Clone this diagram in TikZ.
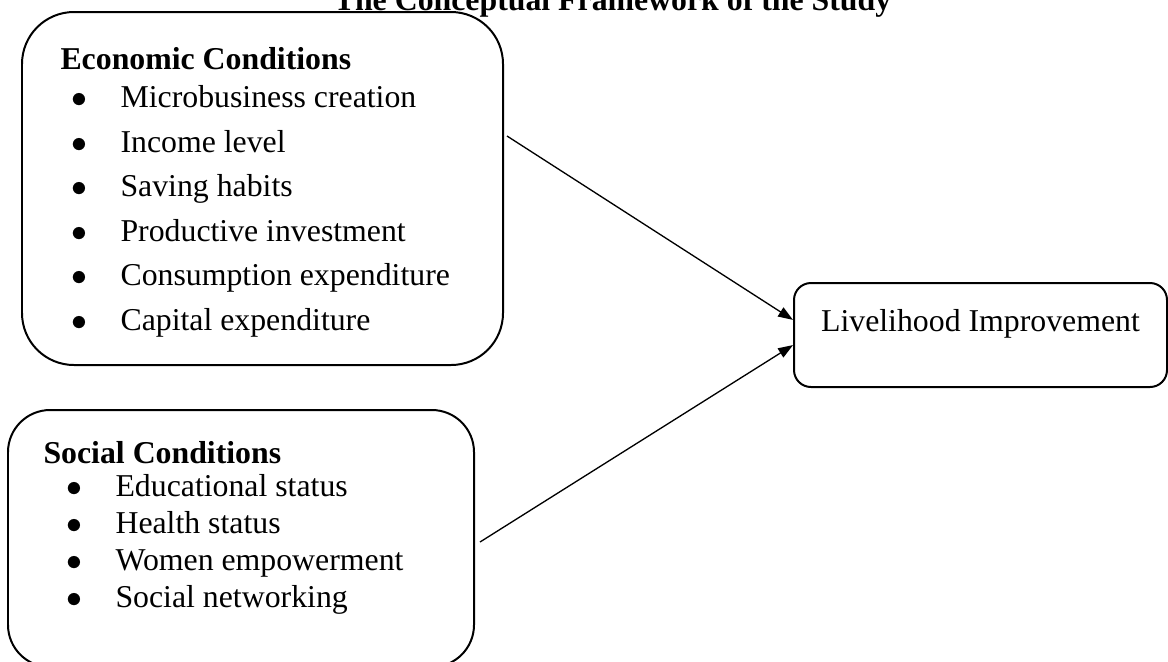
\documentclass[tikz,border=0pt]{standalone}
\usepackage{fontspec}
\setmainfont{Liberation Serif}
\usepackage{tikz}
\usetikzlibrary{arrows.meta}
\newcommand{\px}{0.3774pt}
\newcommand{\bul}{\makebox[18.5pt][l]{$\bullet$}}
\tikzset{
  condbox/.style ={rectangle, draw=black, line width=0.75pt, inner sep=0pt},
  headtxt/.style ={anchor=base west, inner sep=0pt, font=\fontsize{12}{14}\selectfont\bfseries},
  itemtxt/.style ={anchor=base west, inner sep=0pt, font=\fontsize{12}{14}\selectfont},
  flow/.style ={-{Triangle[length=5.6pt,width=4pt]}, line width=0.5pt, draw=black},
}

\begin{document}
\begin{tikzpicture}[x=\px, y=-\px]
\clip (0,0) rectangle (1168,661);
\node[headtxt, anchor=base] (title) at (612.5,10) {The Conceptual Framework of the Study};
\node[condbox, rounded corners=19.6pt, minimum width=481*\px, minimum height=353*\px] (eco) at (262.5,188.5) {};
\node[condbox, rounded corners=15.9pt, minimum width=466*\px, minimum height=257*\px] (soc) at (241,538.5) {};
\node[condbox, rounded corners=6.4pt, minimum width=373*\px, minimum height=104*\px,
      text height=8pt, text depth=10.3pt, font=\fontsize{12}{14}\selectfont] (live) at (980.5,335) {Livelihood Improvement};
\node[headtxt] (ecoHead) at (60,69) {Economic Conditions};
\foreach \txt [count=\i] in {Microbusiness creation, Income level, Saving habits, Productive investment, Consumption expenditure, Capital expenditure}
  \node[itemtxt] (eco-\i) at (71,{107.5+44.6*(\i-1)}) {\bul\txt};
\node[headtxt] (socHead) at (43,463) {Social Conditions};
\foreach \txt [count=\i] in {Educational status, Health status, Women empowerment, Social networking}
  \node[itemtxt] (soc-\i) at (66,{496+37*(\i-1)}) {\bul\txt};
\coordinate (ecoOut) at (507,136);
\coordinate (socOut) at (480,542);
\draw[flow] (ecoOut) -- ([yshift=5.7pt]live.west);
\draw[flow] (socOut) -- ([yshift=-3.8pt]live.west);
\end{tikzpicture}
\end{document}
